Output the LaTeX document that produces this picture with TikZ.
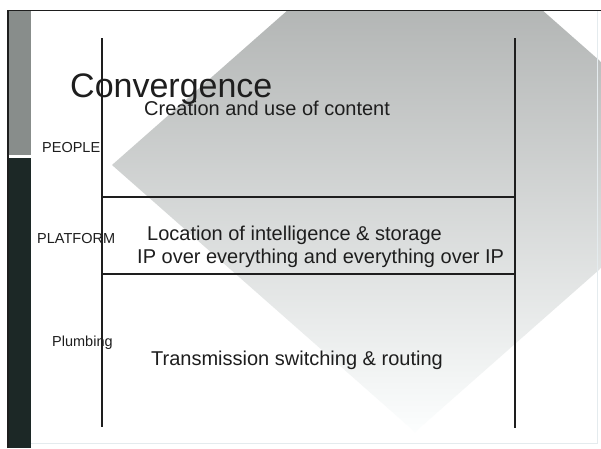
\documentclass[tikz,border=0pt]{standalone}
\usepackage{fontspec}
\setmainfont{Liberation Sans}
\definecolor{ink}{RGB}{30,30,30}
\definecolor{stripgrey}{RGB}{136,141,139}
\definecolor{stripdark}{RGB}{28,40,38}
\definecolor{diamtop}{RGB}{160,163,162}
\definecolor{diammid}{RGB}{178,182,181}
\definecolor{diambot}{RGB}{252,254,254}
\definecolor{edge}{RGB}{228,235,238}
\begin{document}
\begin{tikzpicture}[x=1pt,y=-1pt,
  rule/.style={draw=ink,line width=1.6pt},
  title/.style={anchor=base west,inner sep=0pt,text=ink,font=\fontsize{34}{39}\selectfont},
  body/.style={anchor=base west,inner sep=0pt,text=ink,font=\fontsize{20}{24}\selectfont},
  layer/.style={anchor=base west,inner sep=0pt,text=ink,font=\fontsize{14.5}{17}\selectfont}]
\useasboundingbox (0,0) rectangle (601,448);
\fill[white] (0,0) rectangle (601,448);

% shaded diamond behind the layers, cut off by the slide frame
\begin{scope}
  \clip (31,11) rectangle (601,448);
  \shade[top color=diamtop,middle color=diammid,bottom color=diambot]
    (112,165) -- (415,-102) -- (718,165) -- (415,432) -- cycle;
\end{scope}

% faint slide edges
\draw[edge,line width=1pt] (31,443) -- (597,443) -- (597,11);

% left band: textured grey above, dark below
\fill[stripgrey] (8,11) rectangle (31,155);
\fill[stripdark] (8,158) rectangle (31,448);
\draw[ink,line width=1.2pt] (8,448) -- (8,10.5) -- (601,10.5);

% layer grid
\coordinate (tl) at (102,38);
\coordinate (tr) at (515,38);
\coordinate (bl) at (102,427);
\coordinate (br) at (515,428);
\coordinate (h1l) at (102,197);
\coordinate (h1r) at (515,197);
\coordinate (h2l) at (102,274);
\coordinate (h2r) at (515,274);
\draw[rule] (tl) -- (bl);
\draw[rule] (tr) -- (br);
\draw[rule] (h1l) -- (h1r);
\draw[rule] (h2l) -- (h2r);

% headings and layer texts
\node[title] (ttl) at (70,97) {Convergence};
\node[body] (people) at (144,115) {Creation and use of content};
\node[body] (platA) at (147,240) {Location of intelligence \& storage};
\node[body] (platB) at (137,263) {IP over everything and everything over IP};
\node[body] (plumb) at (151,365) {Transmission switching \& routing};

\node[layer] (lpeople) at (42,152) {PEOPLE};
\node[layer] (lplat) at (37,243) {PLATFORM};
\node[layer] (lplumb) at (52,346) {Plumbing};
\end{tikzpicture}
\end{document}
